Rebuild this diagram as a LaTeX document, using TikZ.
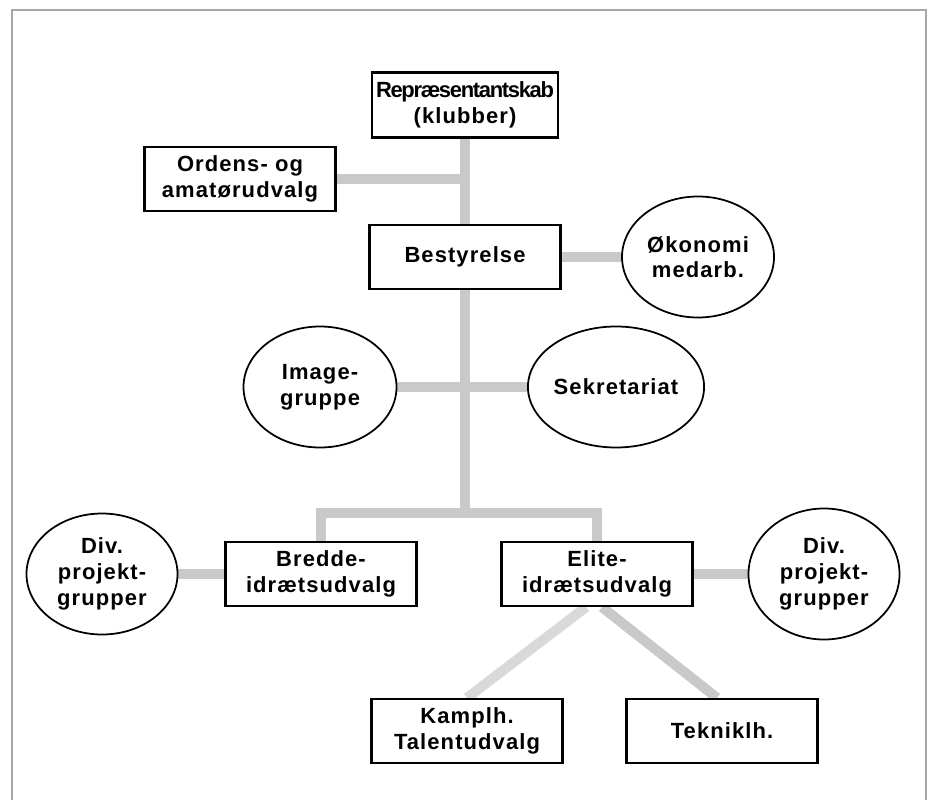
\documentclass[tikz,border=0pt]{standalone}
\usepackage{fontspec}
\setmainfont{Liberation Sans}
\usepackage{tikz}
\usetikzlibrary{positioning}
\usetikzlibrary{shapes.geometric}
\usetikzlibrary{backgrounds}

\begin{document}
\begin{tikzpicture}[
    box/.style={draw, line width=1.3pt, fill=white, minimum width=3.82cm, minimum height=1.28cm,
      align=center, inner sep=2pt, font=\fontsize{12.5}{14.6}\selectfont\bfseries\addfontfeature{LetterSpace=5}},
    oval/.style={draw, ellipse, line width=1pt, fill=white, minimum width=3.04cm, minimum height=2.42cm,
      align=center, inner sep=0pt, font=\fontsize{12.5}{14.6}\selectfont\bfseries\addfontfeature{LetterSpace=5}},
    link/.style={line width=0.2cm, draw=gray!42, line join=miter},
    frame/.style={draw=gray!70, line width=0.6pt},
    on grid
  ]
    \useasboundingbox (0,0) rectangle (18.6,-16);
    \draw [frame] (0.24,-16) |- (18.52,-0.2) -- (18.52,-16);

    \node (rep) [box, minimum width=3.72cm, minimum height=1.3cm] at (9.3,-2.1)
      {{\addfontfeature{LetterSpace=-6}Repræsentantskab}\\(klubber)};
    \node (best) [box, below=3.04cm of rep] {Bestyrelse};
    \node (ordens) [box, below left=1.48cm and 4.5cm of rep] {Ordens- og\\amatørudvalg};
    \node (okon) [oval, right=4.66cm of best] {Økonomi\\medarb.};

    \node (image) [oval, minimum width=3.06cm, below left=2.6cm and 2.9cm of best] {Image-\\gruppe};
    \node (sekr) [oval, right=5.92cm of image] {Sekretariat};

    \node (bredde) [box, below left=6.34cm and 2.88cm of best] {Bredde-\\idrætsudvalg};
    \node (elite) [box, right=5.52cm of bredde] {Elite-\\idrætsudvalg};
    \node (divl) [oval, minimum width=3.02cm, left=4.38cm of bredde] {Div.\\projekt-\\grupper};
    \node (divr) [oval, minimum width=3.02cm, minimum height=2.62cm, right=4.54cm of elite] {Div.\\projekt-\\grupper};

    \node (kamp) [box, below left=3.14cm and 2.6cm of elite] {Kamplh.\\Talentudvalg};
    \node (tekn) [box, right=5.1cm of kamp] {Tekniklh.};

    \coordinate [below=5.12cm of best] (fork);

    \begin{scope}[on background layer]
      \draw [link] (rep.south) -- (best.north);
      \draw [link] (best.south) -- (fork);
      \draw [link] (ordens.east) -- (ordens.east -| rep.south);
      \draw [link] (best.east) -- (okon.west);
      \draw [link] (image.east) -- (sekr.west);
      \draw [link] (bredde.north) |- (fork) -| (elite.north);
      \draw [link] (divl.east) -- (bredde.west);
      \draw [link] (elite.east) -- (divr.west);
      \draw [link, draw=gray!30] ([xshift=-0.22cm]elite.south) -- (kamp.north);
      \draw [link] ([xshift=0.1cm]elite.south) -- ([xshift=-0.1cm]tekn.north);
    \end{scope}
  \end{tikzpicture}
\end{document}
